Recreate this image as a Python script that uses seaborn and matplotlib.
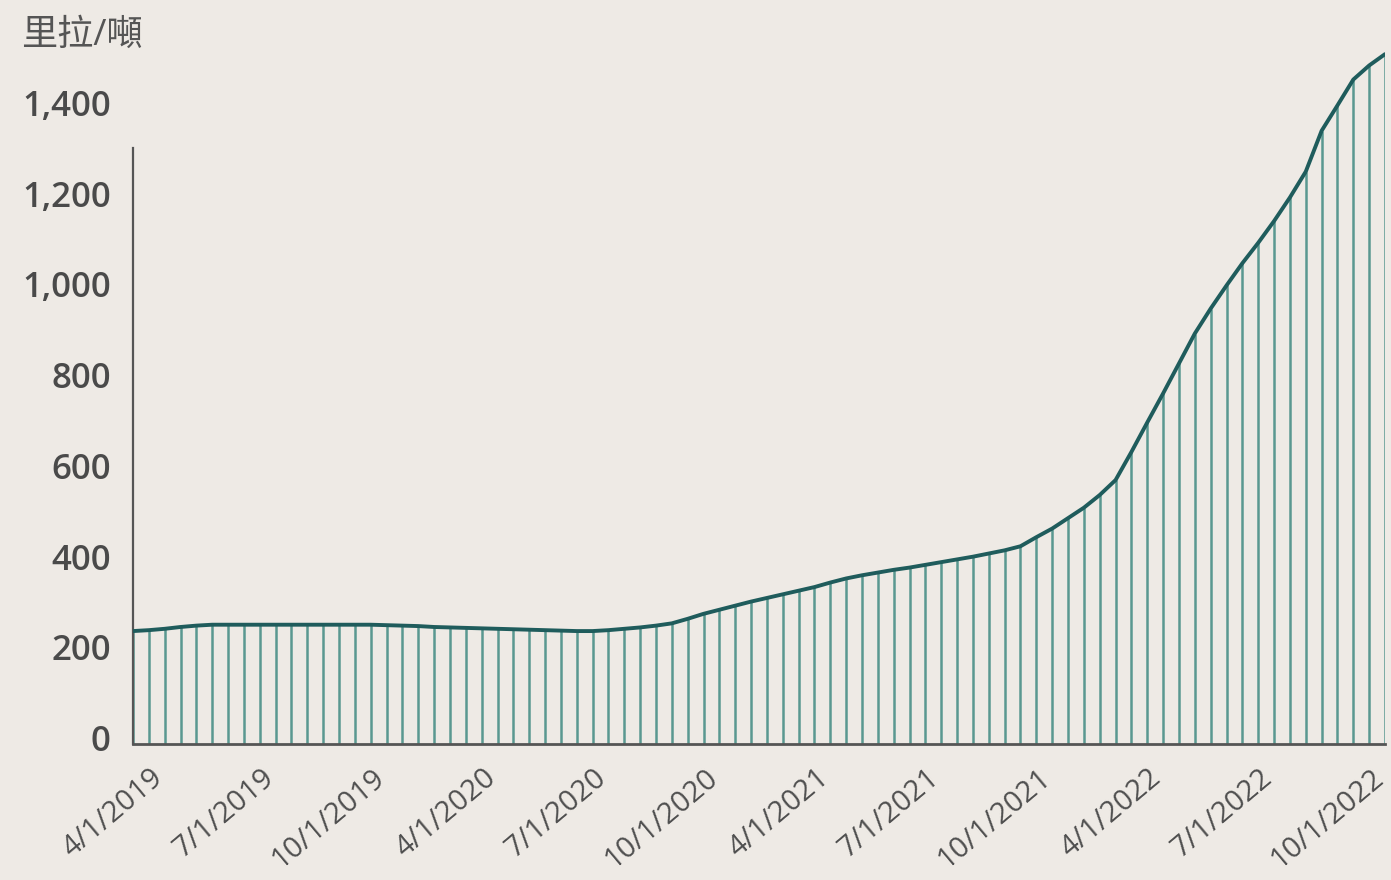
import matplotlib
matplotlib.use("Agg")
import matplotlib.pyplot as plt
import matplotlib.transforms as mtransforms
import seaborn as sns
import numpy as np
import pandas as pd

# price series (80 points, evenly spaced on a category axis)
prices = [
    249, 251, 254, 258, 261, 263, 263, 263, 263, 263,
    263, 263, 263, 263, 263, 263, 262, 261, 260, 258,
    257, 256, 255, 254, 253, 252, 251, 250, 249, 249,
    251, 254, 257, 261, 266, 276, 287, 296, 305, 314,
    322, 330, 338, 346, 356, 365, 372, 378, 384, 389,
    395, 401, 407, 413, 420, 427, 436, 456, 475, 498,
    521, 549, 582, 644, 709, 773, 839, 905, 960, 1011,
    1060, 1105, 1153, 1205, 1262, 1352, 1408, 1465, 1496, 1521,
]

tick_labels = ["4/1/2019", "7/1/2019", "10/1/2019", "4/1/2020", "7/1/2020", "10/1/2020",
               "4/1/2021", "7/1/2021", "10/1/2021", "4/1/2022", "7/1/2022", "10/1/2022"]
y_ticks = [0, 200, 400, 600, 800, 1000, 1200, 1400]
unit_label = "里拉/噸"

df = pd.DataFrame({"idx": np.arange(len(prices)), "price": prices})
tick_pos = [len(prices) - 1 - 7 * k for k in range(len(tick_labels))][::-1]

bg = "#EEEAE5"
sns.set_theme(style="white", rc={"axes.facecolor": bg, "figure.facecolor": bg})
plt.rcParams["font.family"] = ["Open Sans", "Noto Sans CJK TC", "DejaVu Sans"]

fig = plt.figure(figsize=(13.91, 8.80), dpi=100)
ax = fig.add_axes([133 / 1391, (880 - 744) / 880, (1385 - 133) / 1391, (744 - 41) / 880])

ax.vlines(df["idx"], 0, df["price"], color="#5A9890", linewidth=1.8, zorder=1)
sns.lineplot(data=df, x="idx", y="price", ax=ax, color="#1F5C5C", linewidth=2.8, zorder=3)

ax.set_xlim(0, len(prices) - 1)
ax.set_ylim(0, 1550)
ax.set_xlabel("")
ax.set_ylabel("")

ax.set_yticks(y_ticks)
ax.set_yticklabels([f"{v:,}" for v in y_ticks], fontsize=25, fontweight="semibold", color="#4A4A4A")
ax.set_xticks(tick_pos)
ax.set_xticklabels(tick_labels, fontsize=21, color="#4F4F4F", rotation=40,
                   ha="right", va="bottom", rotation_mode="anchor")
ax.tick_params(axis="y", length=0, pad=16)
ax.tick_params(axis="x", length=0, pad=30)

# nudge labels a little, as in the original
up = mtransforms.ScaledTranslation(0, 6 / 100, fig.dpi_scale_trans)
for lab in ax.get_yticklabels():
    lab.set_transform(lab.get_transform() + up)
right = mtransforms.ScaledTranslation(4 / 100, 0, fig.dpi_scale_trans)
for lab in ax.get_xticklabels():
    lab.set_transform(lab.get_transform() + right)

for side in ["top", "right"]:
    ax.spines[side].set_visible(False)
ax.spines["left"].set_bounds(0, 1315)
ax.spines["left"].set_color("#555555")
ax.spines["left"].set_linewidth(1.6)
ax.spines["bottom"].set_color("#555555")
ax.spines["bottom"].set_linewidth(2.0)

fig.text(21 / 1391, 1 - 36 / 880, unit_label, fontsize=26, color="#555555",
         ha="left", va="center", fontweight="medium")

fig.savefig("out.png", dpi=100, facecolor=bg)
